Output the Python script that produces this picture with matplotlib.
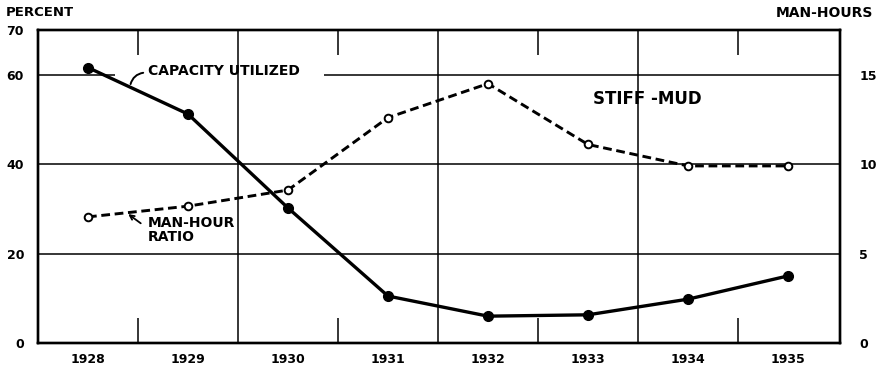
import matplotlib
matplotlib.use("Agg")
import matplotlib.pyplot as plt
from matplotlib.ticker import FixedLocator

# stiff-mud plants, 1928-1935
years = [1928, 1929, 1930, 1931, 1932, 1933, 1934, 1935]
capacity_pct = [61.6, 51.2, 30.2, 10.5, 6.0, 6.3, 9.8, 15.0]
man_hours = [7.05, 7.65, 8.55, 12.6, 14.5, 11.1, 9.9, 9.9]

left_ticks = [0, 20, 40, 60, 70]
right_ticks = [0, 5, 10, 15]

plt.rcParams['font.family'] = 'DejaVu Sans'
plt.rcParams['font.weight'] = 'bold'

fig = plt.figure(figsize=(8.79, 3.69), dpi=100)
ax = fig.add_axes([0.0432, 0.0705, 0.9124, 0.8482])
ax2 = ax.twinx()

ax.set_xlim(1927.5, 1935.52)
ax.set_ylim(0, 70)
ax2.set_ylim(0, 17.5)

for sp in ax.spines.values():
    sp.set_linewidth(1.7)
for sp in ax2.spines.values():
    sp.set_linewidth(1.7)

# grid: horizontal rules and the full vertical dividers
for y in [20, 40]:
    ax.axhline(y, color='black', lw=1.1, zorder=1)
# the 60 rule is broken where the series label sits
ax.hlines(60, 1927.5, 1928.27, color='black', lw=1.1, zorder=1)
ax.hlines(60, 1930.36, 1935.52, color='black', lw=1.1, zorder=1)
for x in [1929.5, 1931.5, 1933.5]:
    ax.axvline(x, color='black', lw=1.1, zorder=1)

# half-year marks top and bottom
ax.xaxis.set_minor_locator(FixedLocator([1928.5, 1930.5, 1932.5, 1934.5]))
ax.tick_params(axis='x', which='minor', direction='in', length=18, width=1.1,
               top=True, bottom=True)
ax.set_xticks(years)
ax.set_xticklabels([str(y) for y in years], fontsize=9, fontweight='bold')
ax.tick_params(axis='x', which='major', length=0, pad=7)

ax.set_yticks(left_ticks)
ax.set_yticklabels([str(v) for v in left_ticks], fontsize=9, fontweight='bold')
ax.tick_params(axis='y', length=0, pad=10)

ax2.set_yticks(right_ticks)
ax2.set_yticklabels([str(v) for v in right_ticks], fontsize=9, fontweight='bold')
ax2.tick_params(axis='y', length=0, pad=14)

ax.plot(years, capacity_pct, '-', color='black', lw=2.4, marker='o',
        markersize=7, zorder=4)
ax2.plot(years, man_hours, '--', color='black', lw=2.1, dashes=(3, 1.6),
         marker='o', markersize=5.5, markerfacecolor='white',
         markeredgewidth=1.4, zorder=4)

# labels on the plot
ax.text(1928.6, 60.8, 'CAPACITY UTILIZED', fontsize=10, fontweight='bold',
        va='center', ha='left', zorder=3)
ax.annotate('', xy=(1928.42, 57.3), xytext=(1928.58, 60.5),
            arrowprops=dict(arrowstyle='-', lw=1.4, color='black',
                            connectionstyle='arc3,rad=0.4'), zorder=3)

ax.text(1928.6, 25.3, 'MAN-HOUR\nRATIO', fontsize=10, fontweight='bold',
        va='center', ha='left', linespacing=1.05)
ax2.annotate('', xy=(1928.38, 7.3), xytext=(1928.55, 6.6),
             arrowprops=dict(arrowstyle='->', lw=1.3, color='black',
                             mutation_scale=8))

ax.text(1933.05, 54.5, 'STIFF -MUD', fontsize=12, fontweight='bold',
        va='center', ha='left')

fig.text(0.006, 0.965, 'PERCENT', fontsize=9.5, fontweight='bold',
         ha='left', va='center')
fig.text(0.993, 0.965, 'MAN-HOURS', fontsize=10, fontweight='bold',
         ha='right', va='center')

fig.savefig('out.png', dpi=100, facecolor='white')
